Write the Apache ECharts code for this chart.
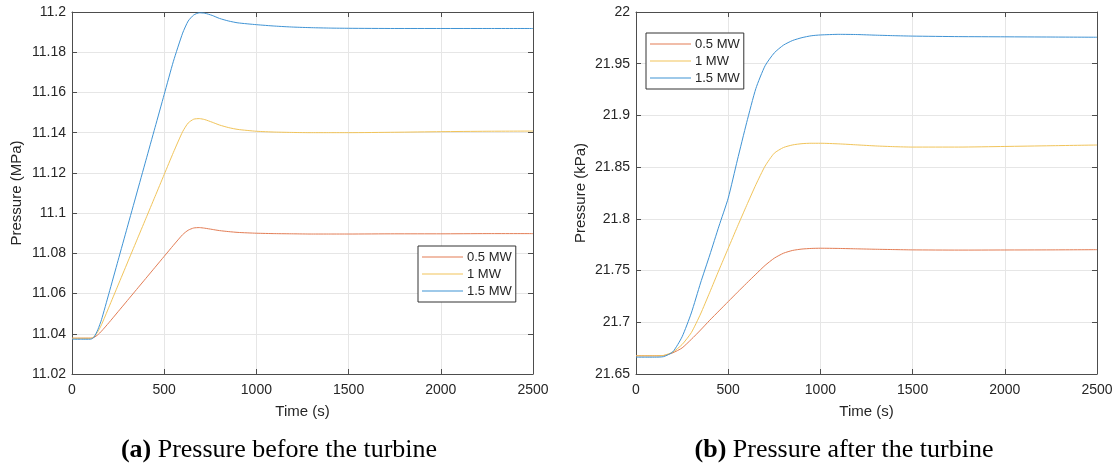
<!DOCTYPE html>
<html>
<head>
<meta charset="utf-8">
<script src="https://cdn.jsdelivr.net/npm/echarts@6/dist/echarts.min.js"></script>
<style>
  html, body { margin: 0; padding: 0; background: #fff; }
  #chart { width: 1118px; height: 468px; }
</style>
</head>
<body>
<div id="chart"></div>
<script>
// (a) pressure before the turbine, MPa
const timeBefore = [0, 50, 100, 110, 120, 140, 160, 200, 250, 300, 350, 400, 450, 500, 550, 600, 630, 660, 690, 720, 760, 800, 850, 900, 1000, 1100, 1200, 1300, 1400, 1500, 1750, 2000, 2250, 2500];
const before05 = [11.0378, 11.0378, 11.0378, 11.0379, 11.0382, 11.0395, 11.0413, 11.0455, 11.0510, 11.0565, 11.0620, 11.0675, 11.0730, 11.0785, 11.0840, 11.0893, 11.0915, 11.0926, 11.0928, 11.0925, 11.0919, 11.0913, 11.0908, 11.0904, 11.0900, 11.0898, 11.0897, 11.0896, 11.0896, 11.0896, 11.0897, 11.0897, 11.0898, 11.0898];
const before10 = [11.0378, 11.0378, 11.0378, 11.0380, 11.0386, 11.0410, 11.0445, 11.0532, 11.0642, 11.0752, 11.0862, 11.0972, 11.1082, 11.1192, 11.1302, 11.1405, 11.1448, 11.1467, 11.1470, 11.1465, 11.1452, 11.1438, 11.1425, 11.1416, 11.1407, 11.1403, 11.1401, 11.1400, 11.1400, 11.1400, 11.1402, 11.1405, 11.1407, 11.1408];
const before15 = [11.0373, 11.0373, 11.0373, 11.0376, 11.0384, 11.0420, 11.0470, 11.0600, 11.0765, 11.0930, 11.1095, 11.1260, 11.1425, 11.1590, 11.1755, 11.1895, 11.1955, 11.1985, 11.1996, 11.1994, 11.1983, 11.1968, 11.1955, 11.1946, 11.1937, 11.1930, 11.1925, 11.1922, 11.1920, 11.1919, 11.1918, 11.1918, 11.1918, 11.1918];

// (b) pressure after the turbine, kPa
const timeAfter = [0, 50, 100, 150, 200, 250, 300, 350, 400, 450, 500, 550, 600, 650, 700, 750, 800, 850, 900, 950, 1000, 1100, 1200, 1300, 1400, 1500, 1750, 2000, 2250, 2500];
const after05 = [21.6676, 21.6676, 21.6676, 21.6678, 21.6705, 21.6752, 21.6835, 21.6925, 21.7020, 21.7110, 21.7200, 21.7290, 21.7378, 21.7465, 21.7550, 21.7620, 21.7668, 21.7695, 21.7708, 21.7714, 21.7716, 21.7714, 21.7710, 21.7706, 21.7703, 21.7700, 21.7698, 21.7699, 21.7700, 21.7702];
const after10 = [21.6676, 21.6676, 21.6676, 21.6680, 21.6712, 21.6785, 21.6900, 21.7080, 21.7290, 21.7505, 21.7715, 21.7925, 21.8130, 21.8330, 21.8510, 21.8635, 21.8690, 21.8715, 21.8727, 21.8731, 21.8731, 21.8725, 21.8715, 21.8705, 21.8698, 21.8694, 21.8694, 21.8700, 21.8707, 21.8714];
const after15 = [21.6663, 21.6663, 21.6663, 21.6668, 21.6715, 21.6860, 21.7090, 21.7380, 21.7650, 21.7930, 21.8200, 21.8570, 21.8930, 21.9260, 21.9480, 21.9605, 21.9680, 21.9725, 21.9752, 21.9770, 21.9778, 21.9784, 21.9782, 21.9776, 21.9771, 21.9767, 21.9762, 21.9760, 21.9758, 21.9756];

const seriesNames = ['0.5 MW', '1 MW', '1.5 MW'];
const seriesColors = ['#e37d55', '#f1c45a', '#3f93d4'];

const axisColor = '#4d4d4d';
const textColor = '#262626';
const fontFamily = 'Liberation Sans, Arial, sans-serif';

function pairs(t, v) {
    return t.map((x, i) => [x, v[i]]);
}

function xAxes(gridIndex) {
    const base = {
        type: 'value', gridIndex: gridIndex, min: 0, max: 2500, interval: 500,
        axisLine: { show: true, onZero: false, lineStyle: { color: axisColor, width: 1 } },
        axisTick: { show: true, inside: true, length: 5, lineStyle: { color: axisColor } }
    };
    return [
        Object.assign({}, base, {
            position: 'bottom',
            name: 'Time (s)', nameLocation: 'middle', nameGap: 30,
            nameTextStyle: { color: textColor, fontSize: 15, fontFamily: fontFamily },
            axisLabel: { color: textColor, fontSize: 14, fontFamily: fontFamily, margin: 9, formatter: v => String(v) },
            splitLine: { show: true, lineStyle: { color: '#e6e6e6', width: 1 } }
        }),
        Object.assign({}, base, {
            position: 'top', axisLabel: { show: false }, splitLine: { show: false }
        })
    ];
}

function yAxes(gridIndex, min, max, interval, name) {
    const base = {
        type: 'value', gridIndex: gridIndex, min: min, max: max, interval: interval,
        axisLine: { show: true, onZero: false, lineStyle: { color: axisColor, width: 1 } },
        axisTick: { show: true, inside: true, length: 5, lineStyle: { color: axisColor } }
    };
    return [
        Object.assign({}, base, {
            position: 'left',
            name: name, nameLocation: 'middle', nameGap: 48,
            nameTextStyle: { color: textColor, fontSize: 15, fontFamily: fontFamily },
            axisLabel: {
                color: textColor, fontSize: 14, fontFamily: fontFamily, margin: 6,
                formatter: v => String(+v.toFixed(2))
            },
            splitLine: { show: true, lineStyle: { color: '#e6e6e6', width: 1 } }
        }),
        Object.assign({}, base, {
            position: 'right', axisLabel: { show: false }, splitLine: { show: false }
        })
    ];
}

function legendAt(left, top) {
    return {
        orient: 'vertical', left: left, top: top,
        data: seriesNames,
        icon: 'rect', itemWidth: 41, itemHeight: 1.2, itemGap: 3,
        padding: [4, 4, 4, 4],
        backgroundColor: '#fff',
        borderColor: '#333', borderWidth: 1, borderRadius: 0,
        textStyle: { color: textColor, fontSize: 13, fontFamily: fontFamily, lineHeight: 14, padding: [0, 0, 0, -1] },
        selectedMode: false
    };
}

const myChart = echarts.init(document.getElementById('chart'), null, { renderer: 'canvas' });

const beforeData = [before05, before10, before15];
const afterData = [after05, after10, after15];

const series = [];
beforeData.forEach((v, i) => {
    series.push({
        name: seriesNames[i], type: 'line', xAxisIndex: 0, yAxisIndex: 0,
        data: pairs(timeBefore, v), showSymbol: false, symbol: 'none', smooth: 0.2,
        lineStyle: { color: seriesColors[i], width: 1 }, itemStyle: { color: seriesColors[i] }
    });
});
afterData.forEach((v, i) => {
    series.push({
        name: seriesNames[i], type: 'line', xAxisIndex: 2, yAxisIndex: 2,
        data: pairs(timeAfter, v), showSymbol: false, symbol: 'none', smooth: 0.2,
        lineStyle: { color: seriesColors[i], width: 1 }, itemStyle: { color: seriesColors[i] }
    });
});

const captionFont = '"Liberation Serif", "Times New Roman", serif';

const option = {
    animation: false,
    backgroundColor: '#fff',
    grid: [
        { left: 72, right: 1118 - 533, top: 12, bottom: 468 - 374 },
        { left: 636, right: 1118 - 1097, top: 12, bottom: 468 - 374 }
    ],
    xAxis: xAxes(0).concat(xAxes(1)),
    yAxis: yAxes(0, 11.02, 11.2, 0.02, 'Pressure (MPa)').concat(yAxes(1, 21.65, 22, 0.05, 'Pressure (kPa)')),
    legend: [legendAt(418, 246), legendAt(646, 33)],
    series: series,
    graphic: [
        {
            type: 'text', x: 279, y: 450,
            style: {
                text: '{b|(a)} Pressure before the turbine',
                align: 'center', verticalAlign: 'middle',
                fill: '#000', font: '26px ' + captionFont,
                rich: { b: { fontWeight: 'bold', fontSize: 26, fontFamily: 'Liberation Serif', fill: '#000' } }
            }
        },
        {
            type: 'text', x: 844, y: 450,
            style: {
                text: '{b|(b)} Pressure after the turbine',
                align: 'center', verticalAlign: 'middle',
                fill: '#000', font: '26px ' + captionFont,
                rich: { b: { fontWeight: 'bold', fontSize: 26, fontFamily: 'Liberation Serif', fill: '#000' } }
            }
        }
    ]
};

myChart.setOption(option);
window.addEventListener('resize', myChart.resize);
</script>
</body>
</html>
